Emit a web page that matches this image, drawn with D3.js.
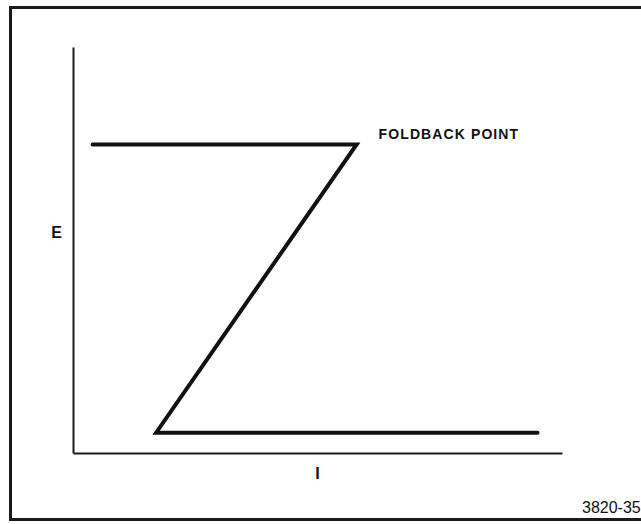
<!DOCTYPE html>
<html>
<head>
<meta charset="utf-8">
<script src="https://cdn.jsdelivr.net/npm/d3@7"></script>
<style>
  body { margin: 0; background: #fff; }
  svg { display: block; }
</style>
</head>
<body>
<svg id="chart" width="641" height="524"></svg>
<script>
// foldback curve: current (I) and voltage (E), arbitrary units
const current = [4, 58, 17, 95]
const voltage = [76, 76, 5, 5]
const xLabel = 'I'
const yLabel = 'E'
const pointLabel = 'FOLDBACK POINT'
const figNumber = '3820-35'

const svg = d3.select('#chart')
const margin = { top: 47, right: 79, bottom: 71, left: 73 }
const width = +svg.attr('width') - margin.left - margin.right
const height = +svg.attr('height') - margin.top - margin.bottom

// outer frame (right side runs off the page)
svg.append('rect')
  .attr('x', 10.5).attr('y', 7.5)
  .attr('width', 700).attr('height', 512)
  .attr('fill', 'none').attr('stroke', '#1a1a1a').attr('stroke-width', 3)

const g = svg.append('g').attr('transform', 'translate(' + margin.left + ',' + margin.top + ')')

const x = d3.scaleLinear().domain([0, 100]).range([0, width])
const y = d3.scaleLinear().domain([0, 100]).range([height, 0])

// axes without ticks
g.append('g').attr('transform', `translate(0, ${height})`)
  .call(d3.axisBottom(x).tickValues([]).tickSizeOuter(0))
  .call(a => a.select('.domain').attr('stroke', '#1a1a1a').attr('stroke-width', 2))
g.append('g')
  .call(d3.axisLeft(y).tickValues([]).tickSizeOuter(0))
  .call(a => a.select('.domain').attr('stroke', '#1a1a1a').attr('stroke-width', 2))

const data = current.map((c, i) => ({ i: c, e: voltage[i] }))

g.append('path')
  .datum(data)
  .attr('fill', 'none')
  .attr('stroke', '#111')
  .attr('stroke-width', 4)
  .attr('stroke-linejoin', 'miter')
  .attr('stroke-linecap', 'round')
  .attr('d', d3.line().x(d => x(d.i)).y(d => y(d.e)))

const font = 'Liberation Sans, Arial, sans-serif'

g.append('text')
  .attr('x', x(current[1]) + 22).attr('y', y(voltage[1]) - 5)
  .attr('font-family', font).attr('font-weight', 'bold')
  .attr('font-size', 14).attr('letter-spacing', 1.1)
  .attr('fill', '#111')
  .text(pointLabel)

g.append('text')
  .attr('x', -11).attr('y', y(54))
  .attr('text-anchor', 'end').attr('dominant-baseline', 'middle')
  .attr('font-family', font).attr('font-weight', 'bold').attr('font-size', 16)
  .attr('fill', '#111')
  .text(yLabel)

g.append('text')
  .attr('x', x(50)).attr('y', height + 26)
  .attr('text-anchor', 'middle')
  .attr('font-family', font).attr('font-weight', 'bold').attr('font-size', 16)
  .attr('fill', '#111')
  .text(xLabel)

svg.append('text')
  .attr('x', 582).attr('y', 513)
  .attr('font-family', font).attr('font-size', 16)
  .attr('fill', '#111')
  .text(figNumber)
</script>
</body>
</html>
